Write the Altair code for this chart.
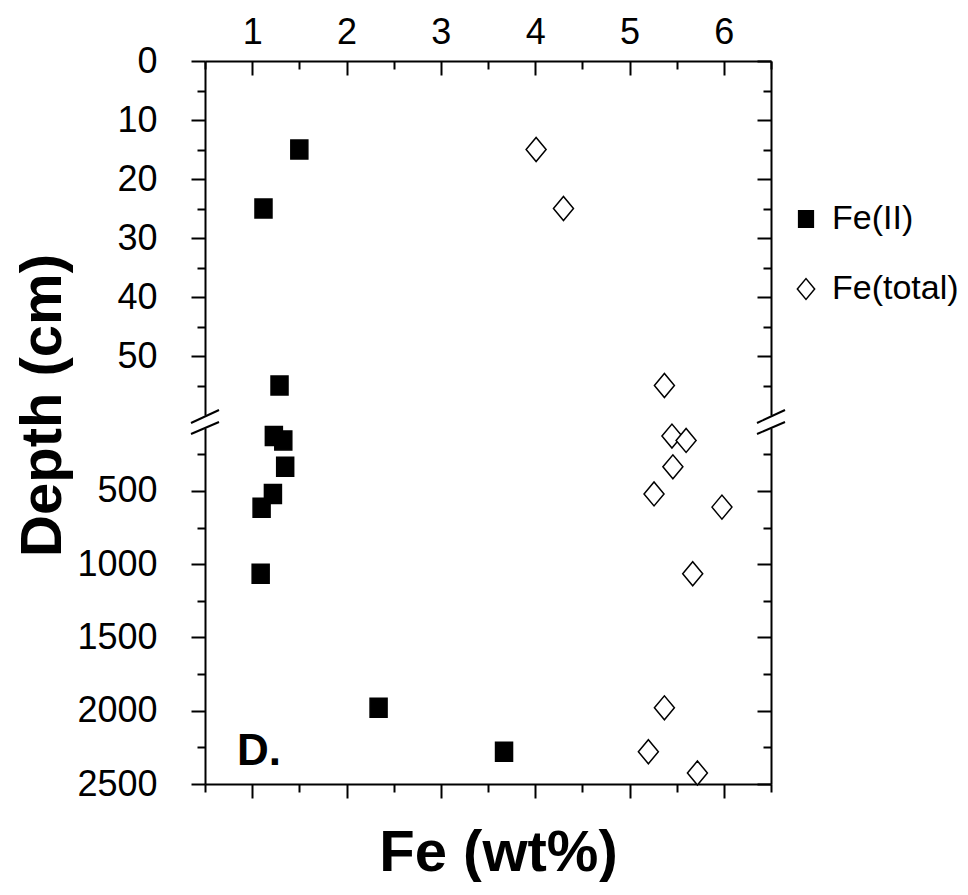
import altair as alt
import pandas as pd

# ---------------- data ----------------
series_names = ["Fe(II)", "Fe(total)"]

fe2_depth = [15, 25, 55, 125, 155, 335, 520, 615, 1065, 1980, 2280]
fe2_wt = [1.50, 1.12, 1.29, 1.23, 1.33, 1.35, 1.22, 1.10, 1.09, 2.34, 3.67]

fet_depth = [15, 25, 55, 125, 155, 335, 520, 610, 1065, 1980, 2280, 2425]
fet_wt = [4.01, 4.30, 5.37, 5.45, 5.60, 5.46, 5.26, 5.98, 5.67, 5.37, 5.20, 5.72]

x_major = [1, 2, 3, 4, 5, 6]
x_minor = [0.5, 1.5, 2.5, 3.5, 4.5, 5.5, 6.5]
top_major = [0, 10, 20, 30, 40, 50]
top_minor = [5, 15, 25, 35, 45, 55]
bot_major = [500, 1000, 1500, 2000, 2500]
bot_minor = [250, 750, 1250, 1750, 2250]

x_domain = [0.5, 6.5]
top_domain = [0, 60]
bot_domain = [70, 2500]
break_depth = 60

panel_label = "D."
panel_label_pos = {"fe": 0.84, "depth": 2370}

# ---------------- build table ----------------
rows = []
for d, v in zip(fe2_depth, fe2_wt):
    rows.append({"depth": d, "fe": v, "series": series_names[0]})
for d, v in zip(fet_depth, fet_wt):
    rows.append({"depth": d, "fe": v, "series": series_names[1]})
df = pd.DataFrame(rows)
df_top = df[df["depth"] <= break_depth]
df_bot = df[df["depth"] > break_depth]

FONT = "Liberation Sans"
W = 566
H_TOP, H_BOT = 354, 356
GAP = 13
MAJ, MIN = 14, 8
LW = 2

SQUARE = "M-0.85,-0.95L0.85,-0.95L0.85,0.95L-0.85,0.95Z"
DIAMOND = "M-1,0L0,-1.2L1,0L0,1.2Z"

base_axis = dict(grid=False, labelFont=FONT, titleFont=FONT, domainColor="black",
                 tickColor="black", labelColor="black", titleColor="black",
                 domainWidth=LW, tickWidth=LW, labelFontSize=36)


def ax(**kw):
    d = dict(base_axis)
    d.update(kw)
    return alt.Axis(**d)


def panel(data, ydom, ymaj, ymin, is_top):
    H = H_TOP if is_top else H_BOT
    xs = alt.Scale(domain=x_domain, nice=False, zero=False)
    ys = alt.Scale(domain=ydom, reverse=True, nice=False, zero=False)

    def X(a):
        return alt.X("fe:Q", scale=xs, axis=a)

    def Y(a):
        return alt.Y("depth:Q", scale=ys, axis=a)

    legend = alt.Legend(title=None, orient="none", legendX=584, legendY=141,
                        labelFont=FONT, labelFontSize=34, labelColor="black",
                        symbolSize=300, symbolStrokeColor="black", symbolStrokeWidth=1.5,
                        rowPadding=36, labelOffset=9) if is_top else None

    if is_top:
        x_main = ax(orient="top", offset=-MAJ, tickSize=MAJ, values=x_major, domain=False,
                    labelPadding=10, title=None, format="d")
        y_main = ax(orient="left", tickSize=MAJ, values=ymaj, domain=True, labelPadding=34,
                    title="Depth (cm)", titleFontSize=58, titleFontWeight="bold",
                    titleAngle=270, titleAlign="center", titleBaseline="alphabetic",
                    titleX=-145, titleY=344, format="d")
        x_minor_ax = ax(orient="top", offset=-MIN, tickSize=MIN, values=x_minor,
                        domain=False, labels=False, title=None)
        x_dom = ax(orient="top", ticks=False, labels=False, domain=True, title=None)
    else:
        x_main = ax(orient="bottom", tickSize=MAJ, values=x_major, domain=True, labels=False,
                    title="Fe (wt%)", titleFontSize=58, titleFontWeight="bold",
                    titleAlign="center", titleBaseline="alphabetic", titleX=293, titleY=86)
        y_main = ax(orient="left", tickSize=MAJ, values=ymaj, domain=True, labelPadding=34,
                    title=None, format="d")
        x_minor_ax = ax(orient="bottom", tickSize=MIN, values=x_minor, domain=False,
                        labels=False, title=None)
        x_dom = None

    sc_shape = alt.Scale(domain=series_names, range=[SQUARE, DIAMOND])
    sc_fill = alt.Scale(domain=series_names, range=["black", "white"])
    sc_stroke = alt.Scale(domain=series_names, range=["black", "black"])
    pts = alt.Chart(data).mark_point(size=400, opacity=1, filled=True,
                                     strokeWidth=1.5).encode(
        x=X(x_main), y=Y(y_main),
        shape=alt.Shape("series:N", scale=sc_shape, legend=legend),
        fill=alt.Fill("series:N", scale=sc_fill, legend=legend),
        stroke=alt.Stroke("series:N", scale=sc_stroke, legend=legend),
    )
    inv = alt.Chart(data).mark_point(opacity=0)
    layers = [pts,
              inv.encode(x=X(x_minor_ax), y=Y(ax(orient="left", tickSize=MIN, values=ymin,
                                                  domain=False, labels=False, title=None))),
              inv.encode(x=X(x_dom), y=Y(ax(orient="right", ticks=False, labels=False,
                                             domain=True, title=None))),
              inv.encode(y=Y(ax(orient="right", offset=-MAJ, tickSize=MAJ, values=ymaj,
                                domain=False, labels=False, title=None))),
              inv.encode(y=Y(ax(orient="right", offset=-MIN, tickSize=MIN, values=ymin,
                                domain=False, labels=False, title=None))),
              ]
    if not is_top:
        lab = alt.Chart(pd.DataFrame([panel_label_pos])).mark_text(
            text=panel_label, font=FONT, fontSize=44, fontWeight="bold", align="left",
            baseline="alphabetic", color="black").encode(
            x=alt.X("fe:Q", scale=xs, axis=None), y=alt.Y("depth:Q", scale=ys, axis=None))
        layers.append(lab)
        one = pd.DataFrame({"k": [0]})
        for (x0, x1) in [(-14, 14), (W - 14, W + 14)]:
            for (ya, yb) in [(-5, -18), (6, -6)]:
                layers.append(alt.Chart(one).mark_rule(color="black", strokeWidth=LW).encode(
                    x=alt.value(x0), x2=alt.value(x1), y=alt.value(ya), y2=alt.value(yb)))
    return alt.layer(*layers).resolve_axis(x="independent", y="independent").properties(
        width=W, height=H)


top = panel(df_top, top_domain, top_major, top_minor, True)
bot = panel(df_bot, bot_domain, bot_major, bot_minor, False)

chart = alt.vconcat(top, bot, spacing=GAP, bounds="flush").properties(
    padding={"left": 6, "top": 6, "right": 0, "bottom": 0}
).configure(font=FONT).configure_view(stroke=None)

chart.save("out.html", embed_options={"renderer": "svg", "actions": False})
